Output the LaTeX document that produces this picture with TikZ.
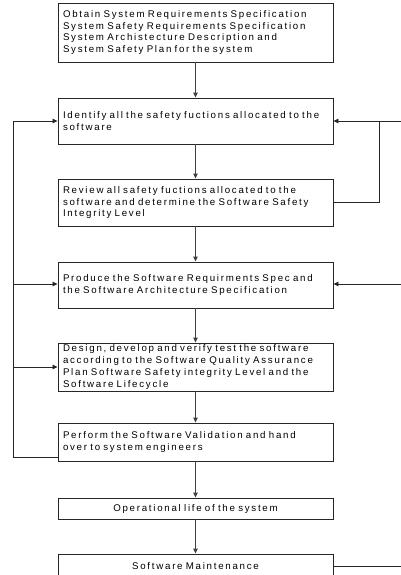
\documentclass[tikz,border=0pt]{standalone}
\usepackage{fontspec}
\setmainfont{Liberation Sans}[LetterSpace=18]
\usetikzlibrary{arrows.meta}
\newcommand\myboxfont{\fontsize{9.7}{11.8}\selectfont\spaceskip=5pt plus 1pt minus 1pt\relax}
\begin{document}
\begin{tikzpicture}[x=1pt,y=-1pt,
  box/.style={draw=black!85, line width=0.9pt, text width=265pt, inner xsep=5pt, inner ysep=0pt,
    align=left, font=\myboxfont, minimum width=275pt, anchor=center},
  cbox/.style={box, align=center},
  flow/.style={draw=black!75, line width=1.3pt, -{Triangle[length=5pt,width=4.5pt]}},
  fb/.style={draw=black!85, line width=0.8pt},
  fba/.style={fb, -{Triangle[length=5pt,width=4.5pt]}}]
\clip (0,0) rectangle (401,575);
\useasboundingbox (0,0) rectangle (401,575);
\node[box, minimum height=59pt] (b1) at (195.5,32.5) {Obtain System Requirements Specification\\System Safety Requirements Specification\\System Archistecture Description and\\System Safety Plan for the system};
\node[box, minimum height=46pt] (b2) at (195.5,121) {Identify all the safety fuctions allocated to the\\software};
\node[box, minimum height=47pt] (b3) at (195.5,202.5) {Review all safety fuctions allocated to the\\software and determine the Software Safety\\Integrity Level};
\node[box, minimum height=46pt] (b4) at (195.5,285) {Produce the Software Requirments Spec and\\the Software Architecture Specification};
\node[box, minimum height=48pt] (b5) at (195.5,367) {Design, develop and verify test the software\\according to the Software Quality Assurance\\Plan Software Safety integrity Level and the\\Software Lifecycle};
\node[box, minimum height=38pt] (b6) at (195.5,442) {Perform the Software Validation and hand\\over to system engineers};
\node[cbox, minimum height=21pt] (b7) at (195.5,508.5) {Operational life of the system};
\node[cbox, minimum height=24pt] (b8) at (195.5,566) {Software Maintenance};
% main flow
\draw[flow] (b1) -- (b2);
\draw[flow] (b2) -- (b3);
\draw[flow] (b3) -- (b4);
\draw[flow] (b4) -- (b5);
\draw[flow] (b5) -- (b6);
\draw[flow] (b6) -- (b7);
\draw[flow] (b7) -- (b8);
% left feedback loop
\coordinate (lb) at (13,457);
\coordinate (lt) at (13,121);
\draw[fb] (b6.west |- lb) -- (lb) -- (lt);
\draw[fba] (lt) -- (b2.west |- lt);
\draw[fba] (13,284) -- (b4.west |- 0,284);
\draw[fba] (13,367) -- (b5.west |- 0,367);
% right feedback
\coordinate (rt) at (379,121);
\coordinate (re2) at (401,121);
\coordinate (re4) at (401,284);
\coordinate (re8) at (401,566);
\draw[fb] (b3.east) -- (b3.east -| rt) -- (rt);
\draw[fb] (re2) -- (rt);
\draw[fba] (rt) -- (b2.east |- rt);
\draw[fba] (re4) -- (b4.east |- re4);
\draw[fb] (b8.east) -- (re8);
\end{tikzpicture}
\end{document}
